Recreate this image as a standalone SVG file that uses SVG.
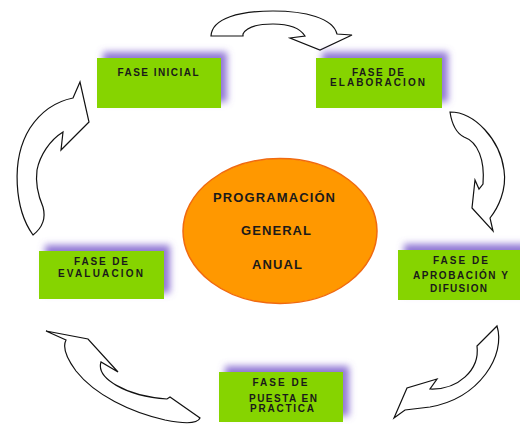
<svg xmlns="http://www.w3.org/2000/svg" width="520" height="424" viewBox="0 0 520 424">
<defs>
<filter id="glow" x="-20%" y="-50%" width="140%" height="200%">
<feOffset in="SourceAlpha" dx="6" dy="-6" result="o"/>
<feGaussianBlur in="o" stdDeviation="3.5" result="b"/>
<feFlood flood-color="#8468d0" flood-opacity="0.9"/>
<feComposite in2="b" operator="in" result="s"/>
<feMerge><feMergeNode in="s"/><feMergeNode in="SourceGraphic"/></feMerge>
</filter>
<style>
.box{fill:#86d400;filter:url(#glow)}
.bt{font-family:"Liberation Sans",Arial,sans-serif;font-weight:bold;font-size:10px;fill:#1a1a1a;text-anchor:middle}
.ct{font-family:"Liberation Sans",Arial,sans-serif;font-weight:bold;font-size:13px;fill:#1a1a1a;text-anchor:middle}
.arr{fill:#fff;stroke:#111;stroke-width:1.2;stroke-linejoin:miter}
</style>
</defs>
<rect width="520" height="424" fill="#fff"/>
<g id="connectors">
<path class="arr" d="M211,36 C212,18 240,11 273,11 C305,11 333,18 337,34 L352,35 L320,50 L290,38 L305,36 C300,28 290,24 273,24 C256,24 246,28 243,34 L243,36 Z"/>
<path class="arr" d="M450,112 C475,112 500,140 504,170 C507,190 498,208 490,218 L493,231 L472,208 L475,180 L479,189 L483,184 C485,160 478,142 464,137 C456,133 452,125 450,112 Z"/>
<path class="arr" d="M497,326 C506,355 480,398 430,407 L405,410 L394,418 L407,388 L437,379 L430,389 C458,390 480,370 477,346 Z"/>
<path class="arr" d="M46,331 L88,339 L118,372 L101,362 C96,378 125,396 167,399 L170,397 L200,418 C197,425 180,423 165,420 C130,412 95,395 76,371 C67,359 62,348 66,340 Z"/>
<path class="arr" d="M33,235 C15,210 10,160 30,128 C42,110 58,101 73,98 L80,82 L89,122 L61,150 L63,132 C50,140 40,155 37,170 C35,185 40,200 43,207 C46,218 42,228 33,235 Z"/>
</g>
<g id="centro">
<ellipse cx="280" cy="231" rx="97" ry="72.5" fill="#ff9800" stroke="#f06a10" stroke-width="1.5"/>
<text class="ct" x="274" y="201.5" textLength="122" lengthAdjust="spacing">PROGRAMACIÓN</text>
<text class="ct" x="276" y="235" textLength="70" lengthAdjust="spacing">GENERAL</text>
<text class="ct" x="277" y="269" textLength="50" lengthAdjust="spacing">ANUAL</text>
</g>
<g id="fase-inicial">
<rect class="box" x="97" y="58" width="124" height="50"/>
<text class="bt" x="158" y="75.5" textLength="81" lengthAdjust="spacing">FASE INICIAL</text>
</g>
<g id="fase-elaboracion">
<rect class="box" x="316" y="58" width="126" height="50"/>
<text class="bt" x="378" y="75.5" textLength="52" lengthAdjust="spacing">FASE DE</text>
<text class="bt" x="377.5" y="85.5" textLength="95" lengthAdjust="spacing">ELABORACION</text>
</g>
<g id="fase-aprobacion">
<rect class="box" x="398" y="250" width="124" height="50"/>
<text class="bt" x="460.5" y="264" textLength="55" lengthAdjust="spacing">FASE DE</text>
<text class="bt" x="460.5" y="278.5" textLength="95" lengthAdjust="spacing">APROBACIÓN Y</text>
<text class="bt" x="458.5" y="292" textLength="57" lengthAdjust="spacing">DIFUSION</text>
</g>
<g id="fase-puesta">
<rect class="box" x="219" y="372" width="124" height="50"/>
<text class="bt" x="280" y="386" textLength="55" lengthAdjust="spacing">FASE DE</text>
<text class="bt" x="283" y="402" textLength="68" lengthAdjust="spacing">PUESTA EN</text>
<text class="bt" x="282" y="412" textLength="64" lengthAdjust="spacing">PRACTICA</text>
</g>
<g id="fase-evaluacion">
<rect class="box" x="39" y="251" width="125" height="48"/>
<text class="bt" x="101" y="264.5" textLength="54" lengthAdjust="spacing">FASE DE</text>
<text class="bt" x="100.5" y="277" textLength="85" lengthAdjust="spacing">EVALUACION</text>
</g>
</svg>
